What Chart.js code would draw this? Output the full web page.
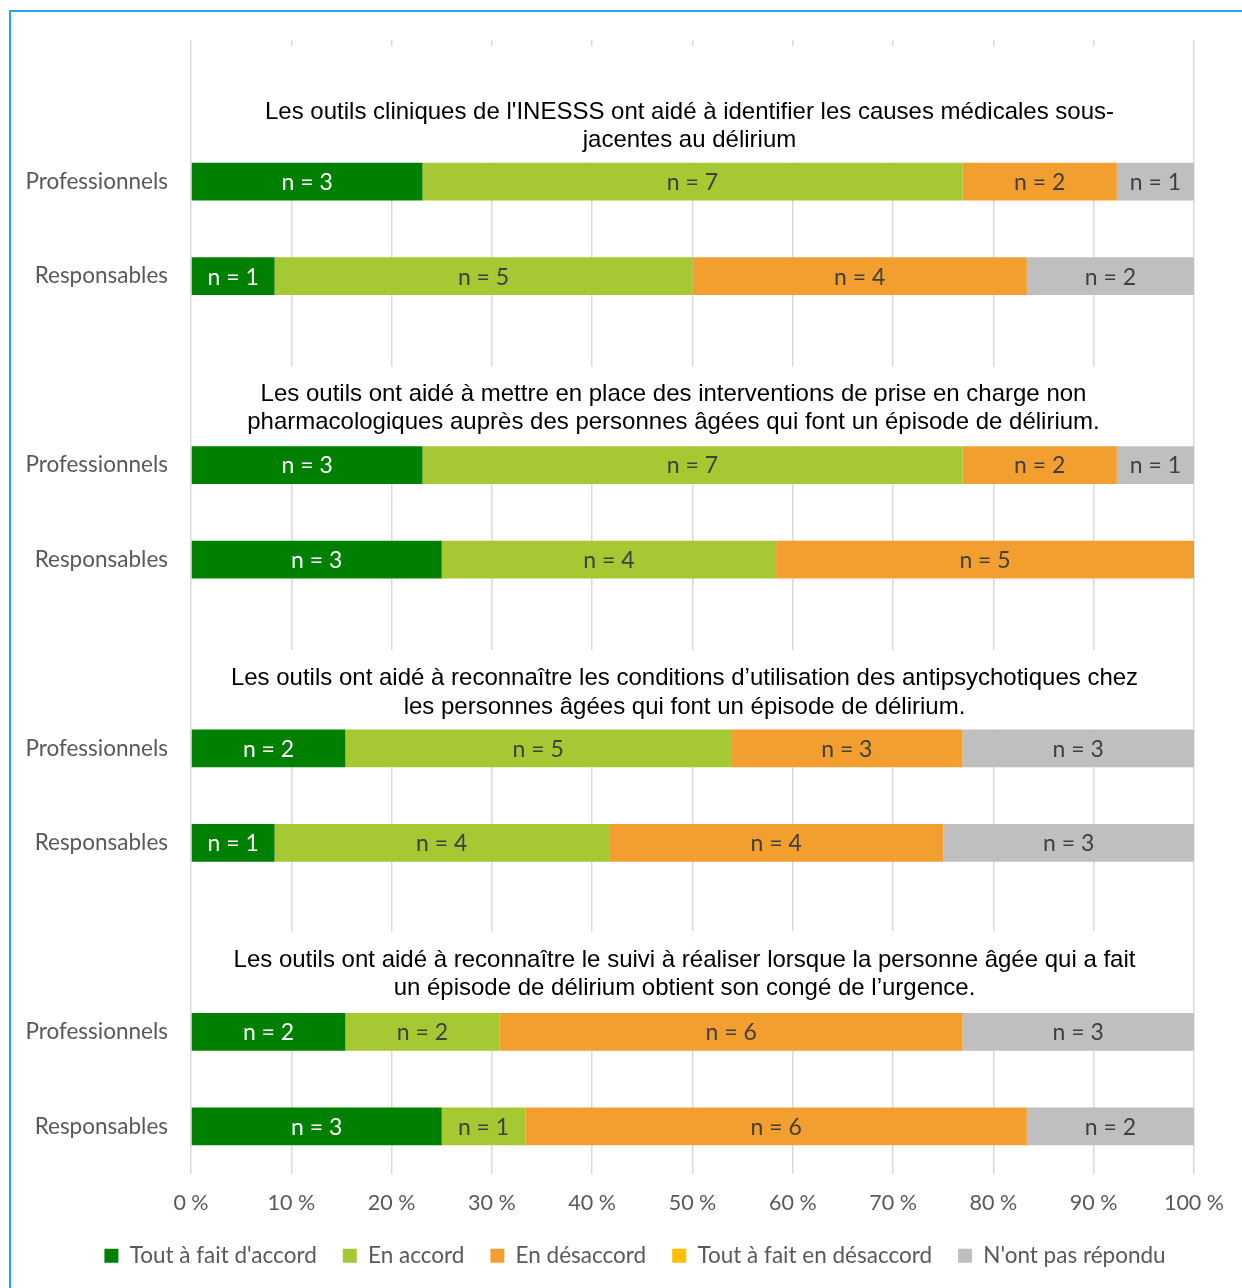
<!DOCTYPE html>
<html>
<head>
<meta charset="utf-8">
<script src="https://cdn.jsdelivr.net/npm/chart.js@4/dist/chart.umd.min.js"></script>
<style>
  html, body { margin: 0; padding: 0; background: #ffffff; }
  #wrap { position: relative; width: 1242px; height: 1288px; overflow: hidden; }
  #frame { position: absolute; left: 9px; top: 10px; width: 1260px; height: 1300px; border: 2px solid #2AA3E3; box-sizing: border-box; pointer-events: none; }
  canvas { position: absolute; left: 0; top: 0; }
</style>
</head>
<body>
<div id="wrap">
  <canvas id="c" width="1242" height="1288"></canvas>
  <div id="frame"></div>
</div>
<script>
// ---- Data ----
const categories = ['', 'Professionnels', 'Responsables', '', 'Professionnels', 'Responsables', '', 'Professionnels', 'Responsables', '', 'Professionnels', 'Responsables'];
const seriesNames = ["Tout à fait d'accord", 'En accord', 'En désaccord', 'Tout à fait en désaccord', "N'ont pas répondu"];
const toutAFaitDaccord     = [null, 3, 1, null, 3, 3, null, 2, 1, null, 2, 3];
const enAccord             = [null, 7, 5, null, 7, 4, null, 5, 4, null, 2, 1];
const enDesaccord          = [null, 2, 4, null, 2, 5, null, 3, 4, null, 6, 6];
const toutAFaitEnDesaccord = [null, 0, 0, null, 0, 0, null, 0, 0, null, 0, 0];
const nontPasRepondu       = [null, 1, 2, null, 1, 0, null, 3, 3, null, 3, 2];
const questionTitles = [
  ["Les outils cliniques de l'INESSS ont aidé à identifier les causes médicales sous-", "jacentes au délirium"],
  ["Les outils ont aidé à mettre en place des interventions de prise en charge non", "pharmacologiques auprès des personnes âgées qui font un épisode de délirium."],
  ["Les outils ont aidé à reconnaître les conditions d’utilisation des antipsychotiques chez", "les personnes âgées qui font un épisode de délirium."],
  ["Les outils ont aidé à reconnaître le suivi à réaliser lorsque la personne âgée qui a fait", "un épisode de délirium obtient son congé de l’urgence."]
];
const titleRows = [0, 3, 6, 9];
const xTickValues = [0, 10, 20, 30, 40, 50, 60, 70, 80, 90, 100];

// ---- Styles ----
const seriesColors = ['#008000', '#A6C832', '#F39F30', '#FFC000', '#BFBFBF'];
const labelColors = ['#FFFFFF', '#404040', '#404040', '#404040', '#404040'];
const LABEL_FONT = 'Lato, "Open Sans", sans-serif';
const TITLE_FONT = '"Liberation Sans", Arial, sans-serif';
// per-title layout: x centre offset from plot centre, box top offset from row centre, first line offset, line spacing
const titleLayout = [
  { dx: -3, boxTop: -41, line: 25, gap: 28 },
  { dx: -19, boxTop: -4, line: 24, gap: 28 },
  { dx: -8, boxTop: -4, line: 24, gap: 29 },
  { dx: -8, boxTop: -6, line: 23.5, gap: 28 }
];
const LEGEND_SHIFT = 38;

const countSeries = [toutAFaitDaccord, enAccord, enDesaccord, toutAFaitEnDesaccord, nontPasRepondu];
const rowTotals = categories.map((_, i) => {
  let s = 0, any = false;
  countSeries.forEach(arr => { if (arr[i] != null) { s += arr[i]; any = true; } });
  return any ? s : null;
});
const toPct = arr => arr.map((v, i) => (v == null || !rowTotals[i]) ? null : v / rowTotals[i] * 100);

const datasets = countSeries.map((arr, k) => ({
  label: seriesNames[k],
  data: toPct(arr),
  counts: arr,
  backgroundColor: seriesColors[k],
  borderWidth: 0,
  barPercentage: 0.4,
  categoryPercentage: 1.0
}));

const titlePlugin = {
  id: 'titleBoxes',
  beforeDatasetsDraw(chart) {
    const { ctx, chartArea } = chart;
    const y = chart.scales.y;
    const rowH = y.getPixelForValue(1) - y.getPixelForValue(0);
    const barHalf = rowH * 0.4 / 2;
    ctx.save();
    titleRows.forEach((r, k) => {
      const L = titleLayout[k];
      const cy = y.getPixelForValue(r);
      const nextBarTop = y.getPixelForValue(r + 1) - barHalf;
      const top = cy + L.boxTop;
      ctx.fillStyle = '#ffffff';
      ctx.fillRect(chartArea.left + 1.5, top, chartArea.right - chartArea.left - 3, nextBarTop - top);
      const cx = (chartArea.left + chartArea.right) / 2 + L.dx;
      ctx.fillStyle = '#000000';
      ctx.font = '24px ' + TITLE_FONT;
      ctx.textAlign = 'center';
      ctx.textBaseline = 'middle';
      questionTitles[k].forEach((line, j) => {
        ctx.fillText(line, cx, cy + L.line + j * L.gap);
      });
    });
    ctx.restore();
  }
};

const valueLabelPlugin = {
  id: 'valueLabels',
  afterDatasetsDraw(chart) {
    const { ctx } = chart;
    ctx.save();
    ctx.font = '23px ' + LABEL_FONT;
    ctx.textAlign = 'center';
    ctx.textBaseline = 'middle';
    chart.data.datasets.forEach((ds, k) => {
      const meta = chart.getDatasetMeta(k);
      meta.data.forEach((bar, i) => {
        const n = ds.counts[i];
        if (n == null || n === 0) return;
        const p = bar.getProps(['x', 'y', 'base'], true);
        ctx.fillStyle = labelColors[k];
        ctx.fillText('n = ' + n, (p.x + p.base) / 2, p.y + 1);
      });
    });
    ctx.restore();
  }
};

const legendShiftPlugin = {
  id: 'legendShift',
  afterLayout(chart) {
    if (chart.legend) {
      chart.legend.left += LEGEND_SHIFT;
      chart.legend.right += LEGEND_SHIFT;
    }
  }
};

new Chart(document.getElementById('c'), {
  type: 'bar',
  data: { labels: categories, datasets },
  options: {
    indexAxis: 'y',
    responsive: false,
    animation: false,
    devicePixelRatio: 1,
    layout: { padding: { top: 40, right: 48, left: 0, bottom: 11 } },
    scales: {
      x: {
        stacked: true,
        min: 0, max: 100,
        afterBuildTicks: s => { s.ticks = xTickValues.map(v => ({ value: v })); },
        afterFit: s => { s.height = 45; },
        grid: { color: '#D9D9D9', lineWidth: 1.5, drawTicks: false },
        border: { display: false },
        ticks: {
          padding: 17,
          color: '#595959',
          font: { family: LABEL_FONT, size: 21.5 },
          callback: v => v + ' %'
        }
      },
      y: {
        stacked: true,
        afterFit: s => { s.width = 191; },
        grid: { display: false, drawTicks: false },
        border: { display: false },
        ticks: {
          padding: 23,
          color: '#595959',
          font: { family: LABEL_FONT, size: 22.5 }
        }
      }
    },
    plugins: {
      legend: {
        position: 'bottom',
        labels: {
          boxWidth: 14,
          boxHeight: 14,
          padding: 26,
          color: '#595959',
          font: { family: LABEL_FONT, size: 22.5 }
        }
      },
      tooltip: { enabled: false }
    }
  },
  plugins: [titlePlugin, valueLabelPlugin, legendShiftPlugin]
});
</script>
</body>
</html>
